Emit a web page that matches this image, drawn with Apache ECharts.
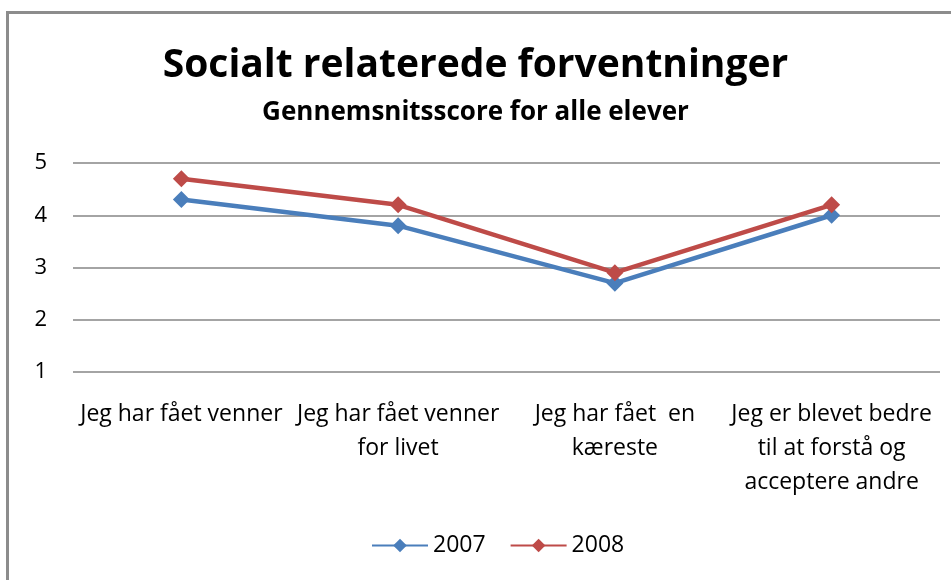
<!DOCTYPE html>
<html><head><meta charset="utf-8">
<script src="https://cdn.jsdelivr.net/npm/echarts@6/dist/echarts.min.js"></script>
<style>html,body{margin:0;padding:0;background:#fff}#c{width:951px;height:580px}</style>
</head><body><div id="c"></div>
<script>
const categories = ["Jeg har fået venner", "Jeg har fået venner\nfor livet", "Jeg har fået  en\nkæreste", "Jeg er blevet bedre\ntil at forstå og\nacceptere andre"];
const values2007 = [4.3, 3.8, 2.7, 4.0];
const values2008 = [4.7, 4.2, 2.9, 4.2];
const yTicks = [1, 2, 3, 4, 5];
const seriesNames = ["2007", "2008"];

const font = "'Open Sans', 'Noto Sans', sans-serif";
const chart = echarts.init(document.getElementById('c'));
chart.setOption({
  animation: false,
  graphic: [{
    type: 'rect', left: 5, top: 10,
    shape: { width: 960, height: 590 },
    style: { fill: 'none', stroke: '#8c8c8c', lineWidth: 3 }
  }],
  title: {
    text: 'Socialt relaterede forventninger',
    subtext: 'Gennemsnitsscore for alle elever',
    left: 'center', top: 41, itemGap: 15,
    textStyle: { fontFamily: font, fontSize: 39, fontWeight: 'bold', color: '#000' },
    subtextStyle: { fontFamily: font, fontSize: 26, color: '#000', fontWeight: 'bold' }
  },
  legend: {
    data: seriesNames, bottom: 18, left: 366, itemWidth: 56, itemHeight: 17, itemGap: 24,
    textStyle: { fontFamily: font, fontSize: 23, color: '#000' }
  },
  grid: { left: 73, right: 11, top: 163, bottom: 208, containLabel: false },
  xAxis: {
    type: 'category', data: categories, boundaryGap: true,
    axisLine: { show: false }, axisTick: { show: false },
    axisLabel: { interval: 0, margin: 25, fontFamily: font, fontSize: 23, color: '#000', lineHeight: 34 }
  },
  yAxis: {
    type: 'value', min: yTicks[0], max: yTicks[yTicks.length - 1], interval: 1,
    axisLine: { show: false }, axisTick: { show: false },
    axisLabel: { margin: 26, fontFamily: font, fontSize: 22, color: '#000' },
    splitLine: { lineStyle: { color: '#868686', width: 1.5 } }
  },
  series: [
    { name: seriesNames[0], type: 'line', data: values2007, symbol: 'diamond', symbolSize: 17,
      lineStyle: { width: 4.5, color: '#4a7ebb' }, itemStyle: { color: '#4a7ebb' } },
    { name: seriesNames[1], type: 'line', data: values2008, symbol: 'diamond', symbolSize: 17,
      lineStyle: { width: 4.5, color: '#be4b48' }, itemStyle: { color: '#be4b48' } }
  ]
});
</script></body></html>
